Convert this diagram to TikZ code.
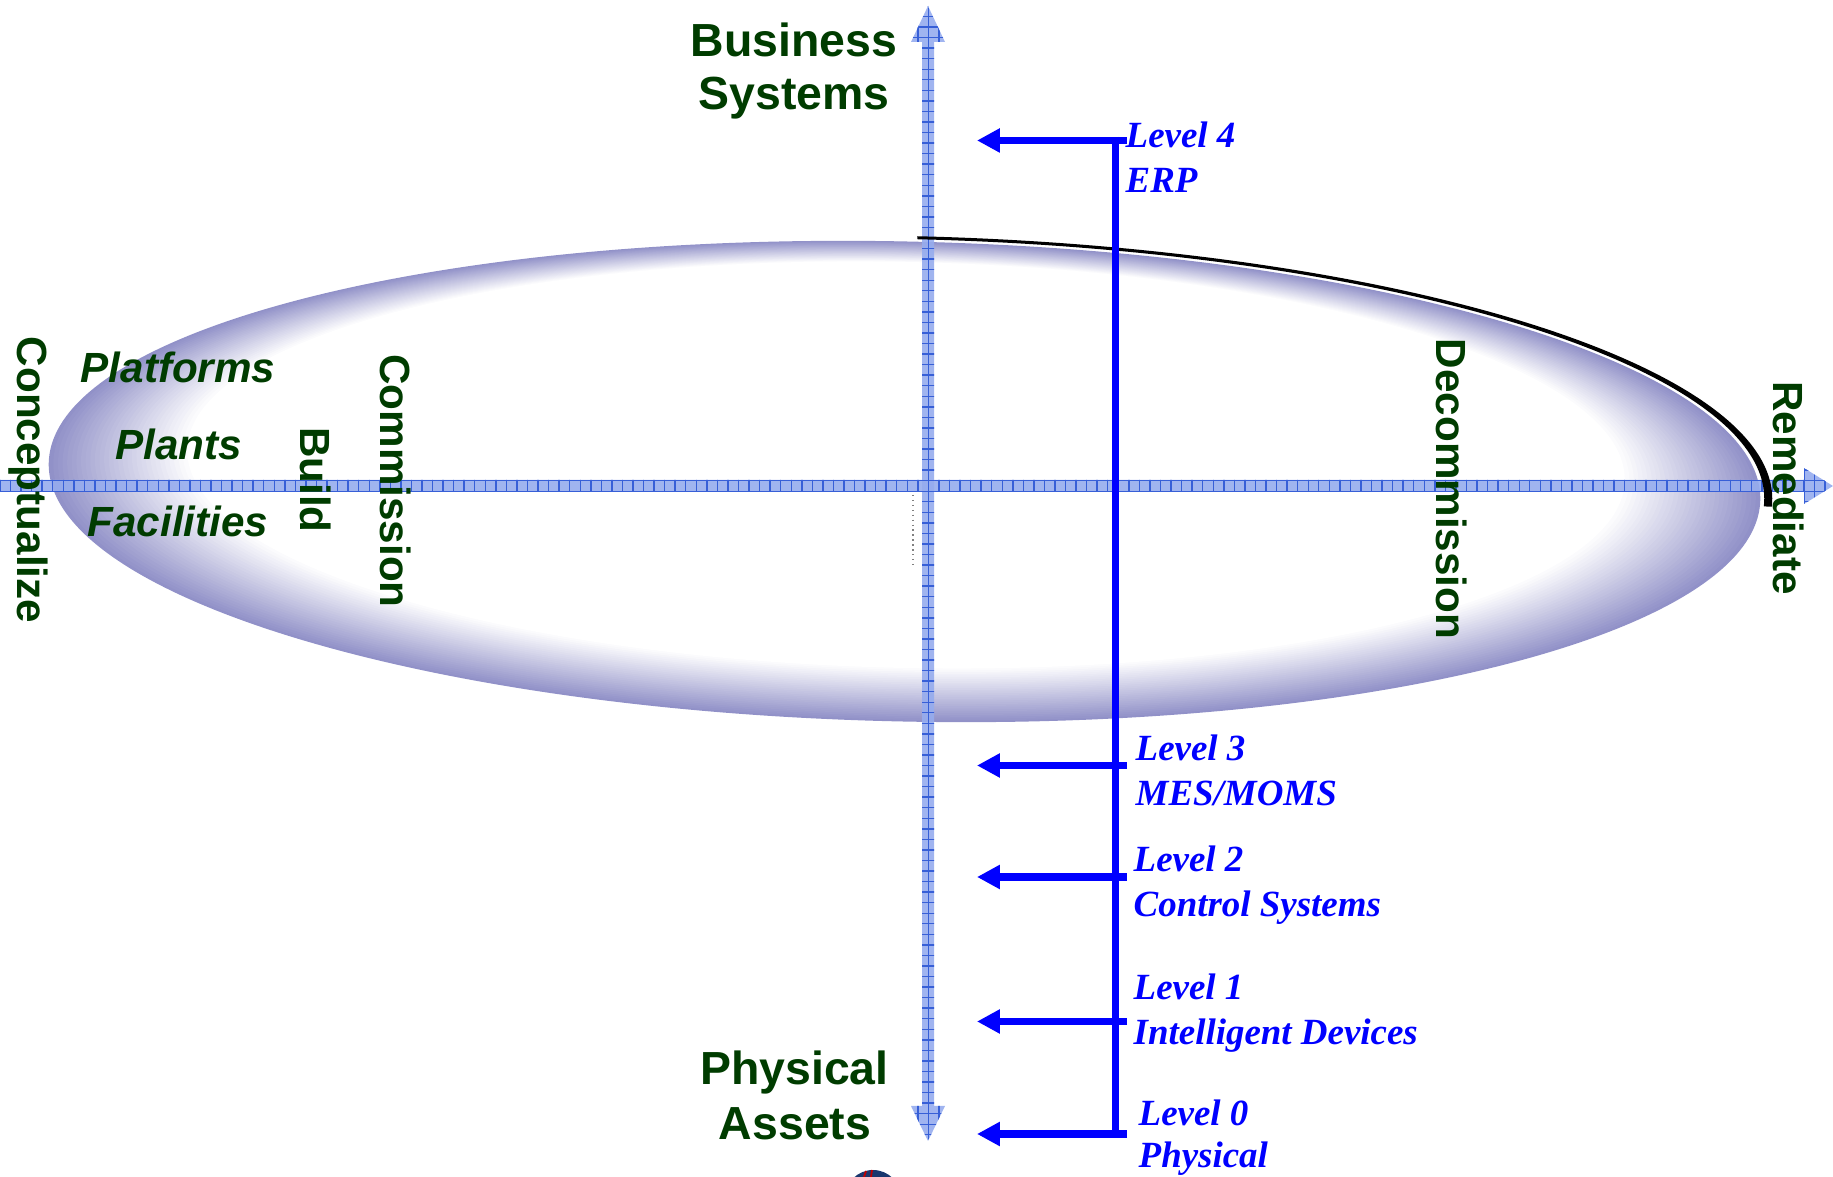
\documentclass[tikz,border=0pt]{standalone}
\usepackage{fontspec}
\usepackage{xcolor}
\usepackage{tikz}
\usetikzlibrary{arrows.meta,calc,patterns}
\newfontfamily\arialfont{Liberation Sans}
\newfontfamily\timesfont{Liberation Serif}
\definecolor{phasegreen}{RGB}{0,60,0}
\definecolor{levelblue}{RGB}{0,0,255}
\definecolor{axisfill}{RGB}{150,172,238}
\definecolor{axisgrid}{RGB}{55,95,215}
\definecolor{ringblue}{RGB}{145,145,200}
\definecolor{logonavy}{RGB}{25,55,110}
\tikzset{
	axis/.style={fill=axisfill, fill opacity=0.9, postaction={pattern=grid, pattern color=axisgrid}},
	phase/.style={text=phasegreen, font=\arialfont\bfseries\fontsize{12}{14}\selectfont, inner sep=0pt, rotate=-90},
	asset/.style={text=phasegreen, font=\arialfont\bfseries\itshape\fontsize{12}{14}\selectfont, inner sep=0pt, anchor=base},
	system/.style={text=phasegreen, font=\arialfont\bfseries\fontsize{13.2}{16}\selectfont, inner sep=0pt, anchor=base},
	level/.style={text=levelblue, font=\timesfont\bfseries\itshape\fontsize{10.5}{12}\selectfont, inner sep=0pt, anchor=base west},
	levelarrow/.style={levelblue, line width=2pt, -{Triangle[length=6.5pt,width=6.5pt]}}
}

\begin{document}
\begin{tikzpicture}[x=0.01cm,y=-0.01cm]
	\clip (0,0) rectangle (1833,1177);
	% Life cycle ring
	\foreach \i in {0,...,30}{
		\pgfmathsetmacro{\ringt}{\i/30}
		\pgfmathsetmacro{\ringcx}{904.5+1.5*\ringt}
		\pgfmathsetmacro{\ringcy}{481.5-16.5*\ringt}
		\pgfmathsetmacro{\ringa}{856-137*\ringt}
		\pgfmathsetmacro{\ringb}{240-37*\ringt}
		\pgfmathsetmacro{\ringmix}{100*(1-\ringt)}
		\fill[ringblue!\ringmix!white, rotate around={-1.24:(\ringcx,\ringcy)}] (\ringcx,\ringcy) ellipse [x radius=\ringa, y radius=\ringb];
	}
	% Axes
	\fill[axis] (0,480) -- (1804,480) -- (1804,468) -- (1833,486) -- (1804,504) -- (1804,492) -- (0,492) -- cycle;
	\fill[axis] (922,42) -- (911,42) -- (928,6) -- (945,42) -- (934,42) -- (934,1106) -- (945,1106) -- (928,1141) -- (911,1106) -- (922,1106) -- cycle;
	\coordinate (dota) at (913,495);
	\coordinate (dotb) at (913,566);
	\draw[gray, densely dotted, line width=0.4pt] (dota) -- (dotb);
	% Black arc
	\begin{scope}[shift={(904.5,481.5)}, rotate=-1.24]
		\fill (-89.5:868 and 245.5) arc [start angle=-89.5, end angle=1.5, x radius=868, y radius=245.5]
			-- (1.5:860 and 242.5) arc [start angle=1.5, end angle=-89.5, x radius=860, y radius=242.5] -- cycle;
	\end{scope}
	% Levels
	\coordinate (bartop) at (1115.5,137);
	\coordinate (barbottom) at (1115.5,1138);
	\draw[levelblue, line width=2pt] (bartop) -- (barbottom);
	\foreach \name/\y in {four/140.5, three/765.5, two/877, one/1021.5, zero/1134}{
		\coordinate (\name) at (1127,\y);
		\coordinate (\name tip) at (977,\y);
		\draw[levelarrow] (\name) -- (\name tip);
	}
	\node[level] (lvl4) at (1125,148) {Level 4};
	\node[level] (erp) at ($(lvl4.base west)+(0,45)$) {ERP};
	\node[level] (lvl3) at (1135,761) {Level 3};
	\node[level] (mes) at ($(lvl3.base west)+(0,45)$) {MES/MOMS};
	\node[level] (lvl2) at (1133,872) {Level 2};
	\node[level] (ctrl) at ($(lvl2.base west)+(0,45)$) {Control Systems};
	\node[level] (lvl1) at (1133,1000) {Level 1};
	\node[level] (dev) at ($(lvl1.base west)+(0,45)$) {Intelligent Devices};
	\node[level] (lvl0) at (1138,1126) {Level 0};
	\node[level] (phys) at ($(lvl0.base west)+(0,42)$) {Physical};
	% Axis labels
	\node[system] (business) at (794,57) {Business};
	\node[system] (systems) at (794,110) {Systems};
	\node[system] (physical) at (794.5,1085) {Physical};
	\node[system] (assets) at (795,1140) {Assets};
	\node[asset] (platforms) at (178,383) {Platforms};
	\node[asset] (plants) at (178.5,460) {Plants};
	\node[asset] (facilities) at (178,537) {Facilities};
	% Phases
	\node[phase] (conc) at (28.5,480) {Conceptualize};
	\node[phase] (build) at (316,480) {Build};
	\node[phase] (comm) at (395.5,481) {Commission};
	\node[phase] (decomm) at (1452,489) {Decommission};
	\node[phase] (remed) at (1788.5,488) {Remediate};
	% Logo
	\fill[logonavy] (873,1198) circle [radius=28];
	\draw[red!75!black, line width=0.5pt] (866,1171) -- (864,1177) (872,1170) -- (871,1177);
\end{tikzpicture}
\end{document}
